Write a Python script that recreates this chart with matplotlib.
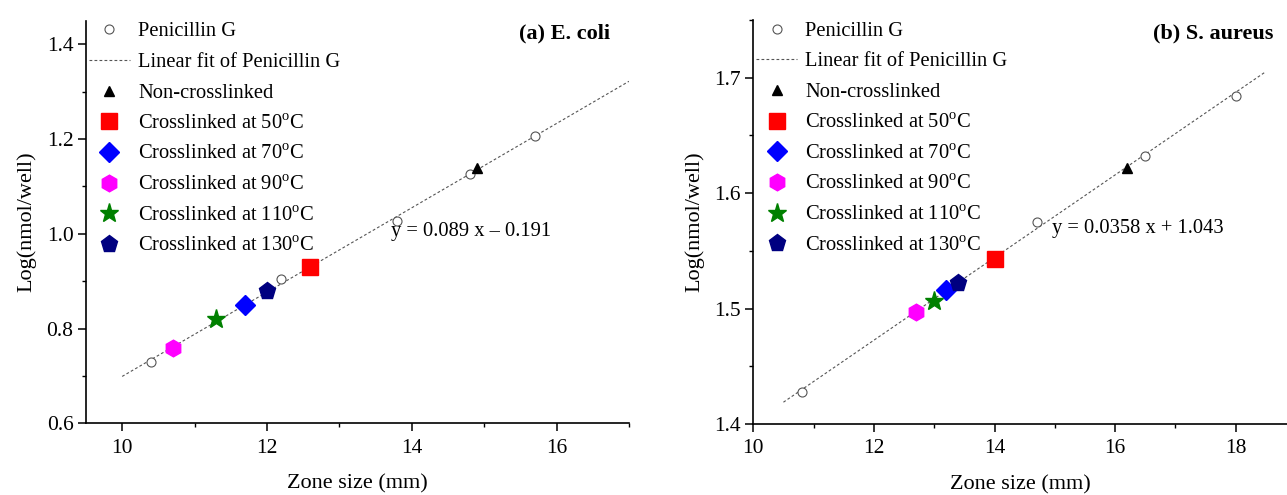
"""Zone size vs Log(nmol/well) calibration, E. coli and S. aureus panels."""
import matplotlib
matplotlib.use("Agg")
import matplotlib.pyplot as plt
import numpy as np
from matplotlib.ticker import MultipleLocator

plt.rcParams["font.family"] = ["Liberation Serif", "DejaVu Serif"]
plt.rcParams["mathtext.fontset"] = "custom"
plt.rcParams["mathtext.rm"] = "Liberation Serif"

# ---- data ----
# (a) E. coli
pen_x_a = [10.4, 12.2, 13.8, 14.8, 15.7]
pen_y_a = [0.730, 0.905, 1.028, 1.126, 1.206]
fit_a = (0.089, -0.191)
fit_range_a = (10.0, 17.0)
sample_x_a = [14.9, 12.6, 11.7, 10.7, 11.3, 12.0]
sample_y_a = [1.140, 0.930, 0.850, 0.760, 0.820, 0.880]

# (b) S. aureus
pen_x_b = [10.8, 14.7, 16.5, 18.0]
pen_y_b = [1.428, 1.575, 1.632, 1.684]
fit_b = (0.0358, 1.043)
fit_range_b = (10.5, 18.5)
sample_x_b = [16.2, 14.0, 13.2, 12.7, 13.0, 13.4]
sample_y_b = [1.622, 1.543, 1.516, 1.497, 1.507, 1.522]

sample_labels = ["Non-crosslinked",
                 "Crosslinked at 50$^{\\rm o}$C",
                 "Crosslinked at 70$^{\\rm o}$C",
                 "Crosslinked at 90$^{\\rm o}$C",
                 "Crosslinked at 110$^{\\rm o}$C",
                 "Crosslinked at 130$^{\\rm o}$C"]
sample_style = [("^", "black", 7),
                ("s", "#ff0000", 11),
                ("D", "#0000ff", 10),
                ("h", "#ff00ff", 12),
                ("*", "#008000", 14),
                ("p", "#000080", 12.5)]

LEG_FS = 14.8
TICK_FS = 15.5
LAB_FS = 16


def panel(ax, px, py, fit, frange, sx, sy, eq, eq_xy, title, title_xy):
    ax.plot(px, py, "o", ms=6.5, mfc="white", mec="#555555", mew=0.8,
            label="Penicillin G", zorder=4)
    xf = np.linspace(frange[0], frange[1], 50)
    ax.plot(xf, fit[0] * xf + fit[1], color="#555555", lw=0.8,
            ls=(0, (2.5, 2)), label="Linear fit of Penicillin G", zorder=2)
    for x, y, lab, (m, c, s) in zip(sx, sy, sample_labels, sample_style):
        ax.plot([x], [y], m, color=c, ms=s, mec=c, ls="none", label=lab, zorder=5)
    ax.text(eq_xy[0], eq_xy[1], eq, fontsize=LEG_FS, va="center", ha="left")
    ax.text(title_xy[0], title_xy[1], title, fontsize=LAB_FS, fontweight="bold",
            va="center", ha="right")
    for sp in ("top", "right"):
        ax.spines[sp].set_visible(False)
    for sp in ("left", "bottom"):
        ax.spines[sp].set_linewidth(1.2)
    ax.xaxis.set_major_locator(MultipleLocator(2))
    ax.xaxis.set_minor_locator(MultipleLocator(1))
    ax.tick_params(which="major", direction="out", length=6, width=1.1,
                   labelsize=TICK_FS, pad=3)
    ax.tick_params(axis="x", which="major", pad=5)
    ax.tick_params(which="minor", direction="out", length=3, width=1.0)
    ax.set_xlabel("Zone size (mm)", fontsize=LAB_FS, labelpad=12)
    ax.set_ylabel("Log(nmol/well)", fontsize=LAB_FS, labelpad=7)
    ax.legend(loc="upper left", bbox_to_anchor=(-0.01, 1.017), frameon=False,
              fontsize=LEG_FS, handlelength=2.0, handletextpad=0.4,
              labelspacing=0.55, borderaxespad=0, numpoints=1)


fig = plt.figure(figsize=(12.87, 4.95), dpi=100)

ax1 = fig.add_axes([0.0668, 0.1448, 0.4219, 0.8134])
panel(ax1, pen_x_a, pen_y_a, fit_a, fit_range_a, sample_x_a, sample_y_a,
      "y = 0.089 x \u2013 0.191", (13.72, 1.005), "(a) E. coli", (16.74, 1.422))
ax1.set_xlim(9.5, 17)
ax1.set_ylim(0.6, 1.45)
ax1.yaxis.set_major_locator(MultipleLocator(0.2))
ax1.yaxis.set_minor_locator(MultipleLocator(0.1))
ax1.yaxis.set_major_formatter(lambda v, p: f"{v:.1f}")

ax2 = fig.add_axes([0.5853, 0.1434, 0.4147, 0.8162])
panel(ax2, pen_x_b, pen_y_b, fit_b, fit_range_b, sample_x_b, sample_y_b,
      "y = 0.0358 x + 1.043", (14.95, 1.569), "(b) S. aureus", (18.62, 1.738))
ax2.set_xlim(10, 18.85)
ax2.set_ylim(1.4, 1.75)
ax2.yaxis.set_major_locator(MultipleLocator(0.1))
ax2.yaxis.set_minor_locator(MultipleLocator(0.05))
ax2.yaxis.set_major_formatter(lambda v, p: f"{v:.1f}")

fig.savefig("out.png", dpi=100)
